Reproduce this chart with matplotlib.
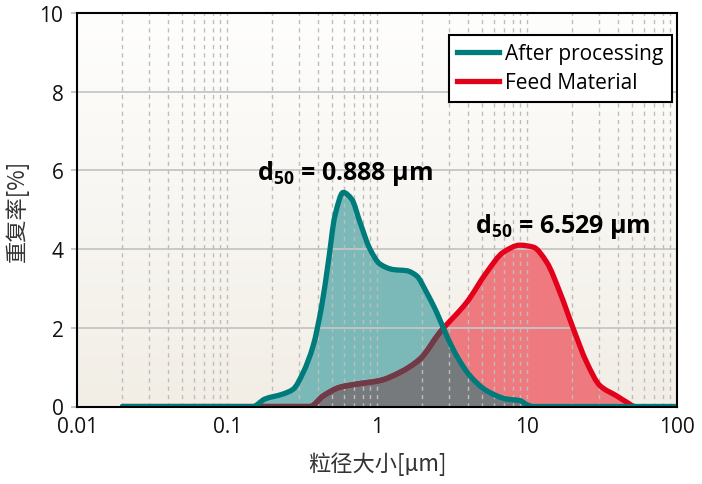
import numpy as np
import matplotlib
matplotlib.use("Agg")
import matplotlib.pyplot as plt
from matplotlib.path import Path
from matplotlib.patches import PathPatch
from matplotlib.lines import Line2D
from matplotlib.colors import LinearSegmentedColormap

plt.rcParams['font.family'] = ['Open Sans', 'DejaVu Sans']
plt.rcParams['mathtext.fontset'] = 'custom'
plt.rcParams['mathtext.rm'] = 'Open Sans:bold'
plt.rcParams['mathtext.it'] = 'Open Sans:bold'
plt.rcParams['mathtext.bf'] = 'Open Sans:bold'
plt.rcParams['lines.scale_dashes'] = False

# ---- data ----
after_x = [0.02, 0.148, 0.178, 0.236, 0.275, 0.321, 0.374, 0.426, 0.471, 0.522, 0.593,
           0.675, 0.767, 0.894, 1.042, 1.279, 1.57, 1.83, 2.13, 2.49, 2.90, 3.38,
           4.15, 5.36, 7.29, 8.93, 9.91, 10.9, 100]
after_y = [0, 0, 0.19, 0.32, 0.44, 0.87, 1.55, 2.56, 3.66, 4.85, 5.44,
           5.27, 4.68, 4.0, 3.62, 3.48, 3.45, 3.32, 2.90, 2.39, 1.80, 1.29,
           0.78, 0.40, 0.19, 0.15, 0.05, 0, 0]

feed_x = [0.02, 0.356, 0.436, 0.564, 0.729, 1.042, 1.42, 1.93, 2.62, 3.95, 5.36,
          6.92, 8.93, 10.96, 13.5, 16.5, 20.3, 24.9, 30.5, 39.4, 46.0, 52.2]
feed_y = [0, 0, 0.27, 0.49, 0.57, 0.66, 0.87, 1.21, 1.89, 2.65, 3.41,
          3.92, 4.10, 4.05, 3.66, 2.90, 1.97, 1.12, 0.53, 0.27, 0.11, 0]

series_labels = ['After processing', 'Feed Material']
d50_labels = ['d$_{50}$ = 0.888 µm', 'd$_{50}$ = 6.529 µm']
xticks = [0.01, 0.1, 1, 10, 100]
xticklabels = ['0.01', '0.1', '1', '10', '100']
yticks = [0, 2, 4, 6, 8, 10]

teal = '#007b7b'
teal_fill = '#7ab9b7'
red = '#e2001a'
red_fill = '#ee7a7f'
overlap = '#767a7d'
red_under = '#6e3b48'


def smooth_path(xs, ys, closed=False):
    """Monotone cubic (PCHIP-style) Bezier path through the points, in log-x space."""
    u = np.log10(np.asarray(xs, float))
    y = np.asarray(ys, float)
    n = len(u)
    h = np.diff(u)
    d = np.diff(y) / h
    m = np.zeros(n)
    for i in range(1, n - 1):
        if d[i - 1] * d[i] > 0:
            w1 = 2 * h[i] + h[i - 1]
            w2 = h[i] + 2 * h[i - 1]
            m[i] = (w1 + w2) / (w1 / d[i - 1] + w2 / d[i])
    verts = [(u[0], y[0])]
    codes = [Path.MOVETO]
    for i in range(n - 1):
        c1 = (u[i] + h[i] / 3, max(0.0, y[i] + m[i] * h[i] / 3))
        c2 = (u[i + 1] - h[i] / 3, max(0.0, y[i + 1] - m[i + 1] * h[i] / 3))
        verts += [c1, c2, (u[i + 1], y[i + 1])]
        codes += [Path.CURVE4] * 3
    if closed:
        verts += [(u[-1], 0), (u[0], 0), (u[0], 0)]
        codes += [Path.LINETO, Path.LINETO, Path.CLOSEPOLY]
    verts = np.array(verts)
    verts[:, 0] = 10 ** verts[:, 0]
    return Path(verts, codes)


W, H = 702, 485
fig = plt.figure(figsize=(W / 100, H / 100), dpi=100)
L, R, T, B = 77.3, 677.3, 14, 407.5
ax = fig.add_axes([L / W, 1 - B / H, (R - L) / W, (B - T) / H])
ax.set_xscale('log')
ax.set_xlim(0.01, 100)
ax.set_ylim(0, 10)

# background gradient
grad = np.linspace(0, 1, 256).reshape(-1, 1)
cm = LinearSegmentedColormap.from_list('bg', ['#f2eee6', '#fefefd'])
ax.imshow(grad, aspect='auto', cmap=cm, extent=[0, 1, 0, 1], origin='lower',
          transform=ax.transAxes, zorder=0)

# fills
red_area = PathPatch(smooth_path(feed_x, feed_y, True), fc=red_fill, lw=0, zorder=1)
ax.add_patch(red_area)
teal_area = PathPatch(smooth_path(after_x, after_y, True), fc=teal_fill, lw=0, zorder=1.1)
ax.add_patch(teal_area)
over_area = PathPatch(smooth_path(feed_x, feed_y, True), fc=overlap, lw=0, zorder=1.2)
ax.add_patch(over_area)
over_area.set_clip_path(teal_area)

# grid
for yv in [2, 4, 6, 8]:
    ax.axhline(yv, color='#c6c6c6', lw=1.3, zorder=1.5)
for dec in [0.01, 0.1, 1, 10]:
    for mlt in range(2, 11):
        xv = dec * mlt
        if xv < 100:
            ax.axvline(xv, color='#bdbdbd', lw=1.0, dashes=(3, 3), zorder=1.5)

# lines
lw = 3.8
red_line = PathPatch(smooth_path(feed_x, feed_y), fill=False, ec=red, lw=lw,
                     capstyle='round', joinstyle='round', zorder=2)
ax.add_patch(red_line)
red_u = PathPatch(smooth_path(feed_x, feed_y), fill=False, ec=red_under, lw=lw,
                  capstyle='round', joinstyle='round', zorder=2.1)
ax.add_patch(red_u)
red_u.set_clip_path(teal_area)
teal_line = PathPatch(smooth_path(after_x, after_y), fill=False, ec=teal, lw=lw,
                      capstyle='round', joinstyle='round', zorder=3)
ax.add_patch(teal_line)

# axes styling
for s in ax.spines.values():
    s.set_linewidth(1.5)
    s.set_color('black')
    s.set_zorder(5)
ax.set_xticks(xticks)
ax.set_xticklabels(xticklabels)
ax.xaxis.set_minor_locator(matplotlib.ticker.NullLocator())
ax.set_yticks(yticks)
ax.tick_params(axis='x', length=0, pad=7, labelsize=15, labelcolor='#111111')
ax.tick_params(axis='y', length=4, width=1.2, color='#bbbbbb', pad=6,
               labelsize=15, labelcolor='#111111')

cjk = ['Noto Sans CJK SC', 'DejaVu Sans']
ax.set_xlabel('粒径大小[µm]', family=cjk, fontsize=16, color='#333333', labelpad=10)
ax.set_ylabel('重复率[%]', family=cjk, fontsize=16, color='#333333', labelpad=8)

# annotations
ax.text(0.299, 0.578, d50_labels[0], transform=ax.transAxes, fontsize=18,
        fontweight='bold', ha='left', va='baseline', zorder=6)
ax.text(0.662, 0.4435, d50_labels[1], transform=ax.transAxes, fontsize=18,
        fontweight='bold', ha='left', va='baseline', zorder=6)

# legend
handles = [Line2D([], [], color=teal, lw=lw), Line2D([], [], color=red, lw=lw)]
leg = fig.legend(handles, series_labels,
                 loc='upper right', bbox_to_anchor=(671.7 / W, 1 - 36 / H),
                 borderaxespad=0, fontsize=15, handlelength=2.0,
                 handletextpad=0.3, borderpad=0.4, labelspacing=0.38,
                 fancybox=False, framealpha=1, edgecolor='black')
leg.get_frame().set_linewidth(1.5)

fig.savefig('out.png', dpi=100)
